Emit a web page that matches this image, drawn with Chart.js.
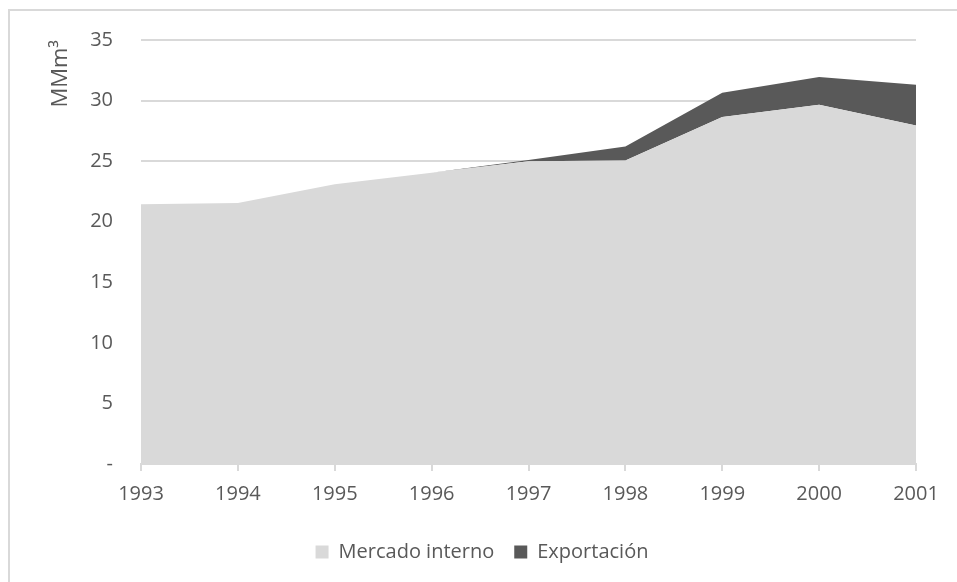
<!DOCTYPE html>
<html>
<head>
<meta charset="utf-8">
<script src="https://cdn.jsdelivr.net/npm/chart.js@4/dist/chart.umd.min.js"></script>
<style>
  html, body { margin: 0; padding: 0; background: #fff; }
  #frame { position: absolute; left: 8px; top: 9px; width: 960px; height: 600px;
           border-left: 2px solid #d9d9d9; border-top: 2px solid #d9d9d9; }
  #wrap { position: absolute; left: 0; top: 0; width: 957px; height: 582px; }
</style>
</head>
<body>
<div id="frame"></div>
<div id="wrap"><canvas id="chart" width="957" height="582"></canvas></div>
<script>
// --- Data ---
const years = ['1993', '1994', '1995', '1996', '1997', '1998', '1999', '2000', '2001'];
const mercadoInterno = [21.45, 21.55, 23.1, 24.05, 25.0, 25.05, 28.65, 29.65, 27.95];
const exportacion = [0, 0, 0, 0, 0.1, 1.15, 2.0, 2.3, 3.35];
const yTicks = [0, 5, 10, 15, 20, 25, 30, 35];

const textColor = '#595959';
const gridColor = '#d9d9d9';
const fontFamily = '"Open Sans", sans-serif';

Chart.defaults.font.family = fontFamily;
Chart.defaults.color = textColor;

const ctx = document.getElementById('chart').getContext('2d');
new Chart(ctx, {
    type: 'line',
    data: {
        labels: years,
        datasets: [
            {
                label: 'Mercado interno',
                data: mercadoInterno,
                backgroundColor: '#d9d9d9',
                borderWidth: 0,
                pointRadius: 0,
                fill: 'origin',
                tension: 0
            },
            {
                label: 'Exportación',
                data: exportacion,
                backgroundColor: '#595959',
                borderWidth: 0,
                pointRadius: 0,
                fill: '-1',
                tension: 0
            }
        ]
    },
    options: {
        responsive: false,
        animation: false,
        layout: { padding: { left: 48, right: 41, top: 26, bottom: 10 } },
        plugins: {
            tooltip: { enabled: false },
            legend: {
                position: 'bottom',
                labels: {
                    boxWidth: 13,
                    boxHeight: 13,
                    padding: 20,
                    font: { size: 20 },
                    color: textColor
                }
            }
        },
        scales: {
            x: {
                offset: false,
                grid: {
                    display: true,
                    drawOnChartArea: false,
                    drawTicks: true,
                    tickLength: 7,
                    color: gridColor,
                    lineWidth: 2
                },
                border: { color: gridColor, width: 2 },
                ticks: { font: { size: 20 }, color: textColor, padding: 11, maxRotation: 0 },
                afterFit: axis => { axis.height = 58; }
            },
            y: {
                stacked: true,
                min: 0,
                max: 35,
                afterBuildTicks: axis => { axis.ticks = yTicks.map(v => ({ value: v })); },
                grid: {
                    color: ctx => ctx.tick.value === 0 ? 'rgba(0,0,0,0)' : gridColor,
                    lineWidth: 2,
                    drawTicks: false
                },
                border: { display: false },
                ticks: {
                    font: { size: 20 },
                    color: textColor,
                    padding: 28,
                    callback: v => v === 0 ? '-' : v
                },
                title: {
                    display: true,
                    text: 'MMm³',
                    align: 'end',
                    font: { size: 22 },
                    color: textColor,
                    padding: { top: 0, bottom: 10 }
                },
                afterFit: axis => { axis.width = 93; }
            }
        }
    }
});
</script>
</body>
</html>
